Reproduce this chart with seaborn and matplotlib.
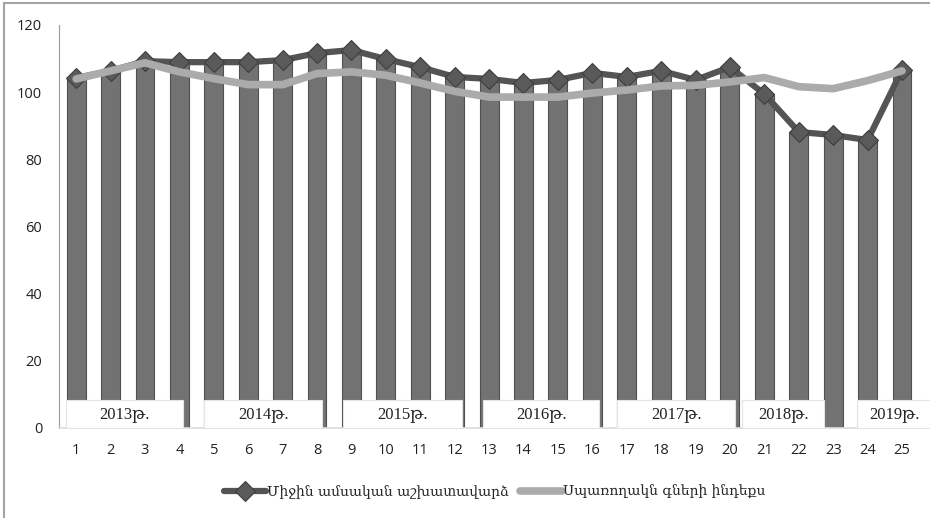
import matplotlib as mpl
import matplotlib.pyplot as plt
import numpy as np
import pandas as pd
import seaborn as sns
from matplotlib.patches import Rectangle

mpl.use("Agg")

# quarters 1..25 (2013 Q1 .. 2019 Q1)
quarters = list(range(1, 26))
wage = [104.2, 106.3, 109.2, 108.9, 108.9, 108.9, 109.5, 111.6, 112.5, 109.8,
        107.4, 104.5, 103.9, 102.7, 103.6, 105.7, 104.5, 106.3, 103.6, 107.4,
        99.4, 88.1, 87.2, 85.7, 106.5]
cpi = [103.9, 106.3, 108.7, 106.0, 104.0, 102.2, 102.2, 105.5, 106.0, 105.0,
       102.7, 100.2, 98.5, 98.5, 98.5, 99.7, 100.6, 101.8, 102.0, 103.0,
       104.3, 101.6, 101.0, 103.4, 106.3]
years = ["2013թ.", "2014թ.", "2015թ.", "2016թ.", "2017թ.", "2018թ.", "2019թ."]
wage_label = "Միջին ամսական աշխատավարձ"
cpi_label = "Սպառողակն գների ինդեքս"
y_ticks = [0, 20, 40, 60, 80, 100, 120]

# layout of the year boxes (x from, x to) in quarter units
box_spans = [(0.71, 4.11), (4.72, 8.15), (8.76, 12.22), (12.83, 16.2),
             (16.73, 20.16), (20.36, 22.74), (23.7, 25.85)]

data = pd.DataFrame({"quarter": quarters, "wage": wage, "cpi": cpi})

sns.set_theme(style="white")
plt.rcParams["font.family"] = ["Open Sans", "DejaVu Sans"]

fig = plt.figure(figsize=(9.3, 5.18), dpi=100)
ax = fig.add_axes([0.0634, 0.174, 0.925, 0.778])

sns.barplot(data=data, x="quarter", y="wage", native_scale=True, width=0.55,
            color="#727272", edgecolor="#505050", linewidth=0.8,
            saturation=1, ax=ax, zorder=2)
sns.lineplot(data=data, x="quarter", y="wage", color="#545454", lw=4.5,
             marker="D", markersize=10.5, markerfacecolor="#5a5a5a",
             markeredgecolor="#3e3e3e", markeredgewidth=0.8,
             label=wage_label, ax=ax, zorder=3)
sns.lineplot(data=data, x="quarter", y="cpi", color="#ababab", lw=5.5,
             label=cpi_label, ax=ax, zorder=4)

# year boxes
for (x0, x1), txt in zip(box_spans, years):
    ax.add_patch(Rectangle((x0, 0), x1 - x0, 8.3, facecolor="white",
                           edgecolor="#e4e4e4", lw=0.8, zorder=5, clip_on=False))
    ax.text((x0 + x1) / 2, 4.1, txt, ha="center", va="center", fontsize=12,
            family=["Liberation Serif", "DejaVu Serif"], color="#222222",
            zorder=6, clip_on=False)

ax.set_xlim(0.5, 25.5)
ax.set_ylim(0, 120)
ax.set_xticks(quarters)
ax.set_xticklabels([str(q) for q in quarters])
ax.set_yticks(y_ticks)
ax.set_xlabel("")
ax.set_ylabel("")
ax.tick_params(axis="both", length=0, labelsize=10.5, colors="#222222")
ax.tick_params(axis="x", pad=11)
ax.tick_params(axis="y", pad=12)
for side in ["top", "right"]:
    ax.spines[side].set_visible(False)
ax.spines["left"].set_color("#9a9a9a")
ax.spines["bottom"].set_color("#dddddd")
ax.spines["left"].set_linewidth(0.8)

leg = ax.legend(loc="center", bbox_to_anchor=(0.532, 0.05),
                bbox_transform=fig.transFigure, ncol=2, frameon=False,
                handlelength=3, handletextpad=0.1, columnspacing=0.8,
                prop={"family": ["DejaVu Serif"], "size": 10})

# outer frame of the picture
fig.patches.append(Rectangle((4 / 930, -0.02), 1.0, 1 - 3 / 518 + 0.02,
                             transform=fig.transFigure, fill=False,
                             edgecolor="#a4a4a4", lw=1.5))

plt.savefig("out.png", dpi=100)
